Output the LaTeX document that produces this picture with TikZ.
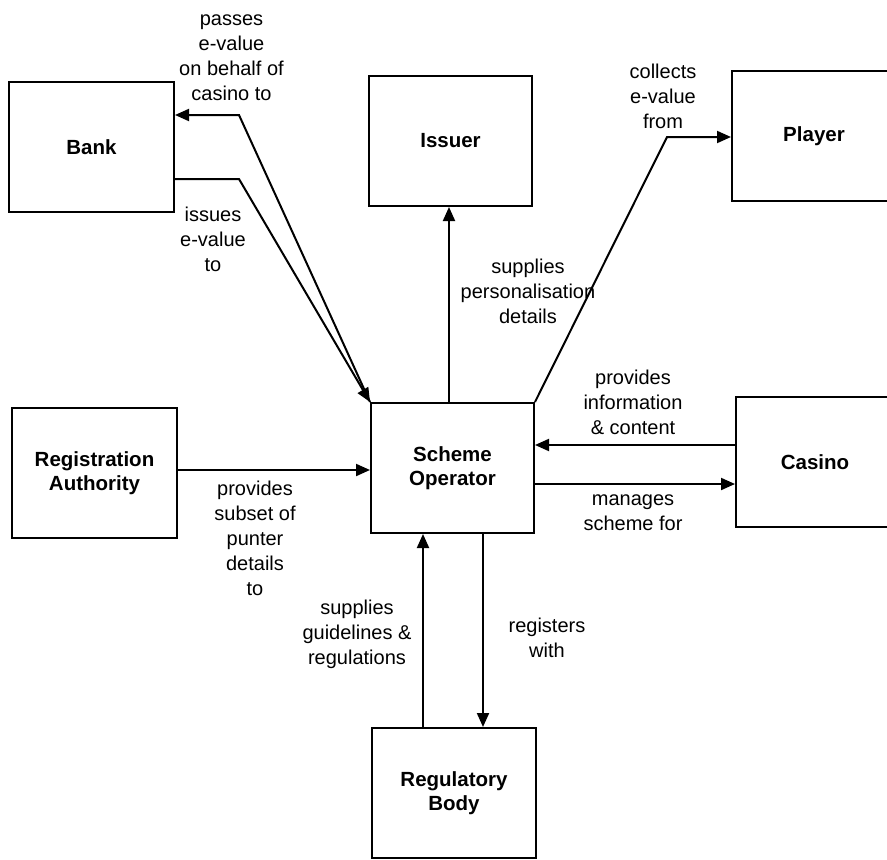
\documentclass[tikz,border=0pt]{standalone}
\usepackage{fontspec}
\setmainfont{Liberation Sans}
\usetikzlibrary{arrows.meta}
\begin{document}
\begin{tikzpicture}[x=1pt,y=-1pt,
  box/.style={draw, line width=2pt, minimum height=130pt, inner sep=0pt, align=center,
    font=\fontsize{20.5}{24}\selectfont\bfseries},
  lbl/.style={align=center, inner sep=0pt, font=\fontsize{20}{25}\selectfont},
  conn/.style={line width=2pt, line join=miter},
  arr/.style={conn, -{Triangle[length=14pt,width=12pt]}}]
\clip (0,0) rectangle (887,860);
\fill[white] (0,0) rectangle (887,860);
% boxes
\node[box, minimum width=165pt] (bank) at (91.5,147) {Bank};
\node[box, minimum width=163pt] (issuer) at (450.5,141) {Issuer};
\node[box, minimum width=164pt] (player) at (814,136) {Player};
\node[box, minimum width=165pt] (ra) at (94.5,473) {Registration\\Authority};
\node[box, minimum width=163pt] (scheme) at (452.5,468) {Scheme\\Operator};
\node[box, minimum width=158pt] (casino) at (815,462) {Casino};
\node[box, minimum width=164pt] (reg) at (454,793) {Regulatory\\Body};
% helper coordinates
\coordinate (k1) at (239,115);
\coordinate (k2) at (239,179);
\coordinate (k3) at (449,300);
\coordinate (k4) at (667,137);
\coordinate (c1) at (640,445);
\coordinate (c2) at (640,484);
\coordinate (c3) at (270,470);
\coordinate (x1) at (423,640);
\coordinate (x2) at (483,640);
% connectors
\draw[arr] (scheme.north west) -- (k1) -- (bank.east |- k1);
\draw[arr] (bank.east |- k2) -- (k2) -- (scheme.north west);
\draw[arr] (scheme.north -| k3) -- (issuer.south -| k3);
\draw[arr] (scheme.north east) -- (k4) -- (player.west |- k4);
\draw[arr] (casino.west |- c1) -- (scheme.east |- c1);
\draw[arr] (scheme.east |- c2) -- (casino.west |- c2);
\draw[arr] (ra.east |- c3) -- (scheme.west |- c3);
\draw[arr] (reg.north -| x1) -- (scheme.south -| x1);
\draw[arr] (scheme.south -| x2) -- (reg.north -| x2);
% labels
\node[lbl] (l1) at (231.5,57.5) {passes\\e-value\\on behalf of\\casino to};
\node[lbl] (l2) at (213,239) {issues\\e-value\\to};
\node[lbl] (l3) at (528,291) {supplies\\personalisation\\details};
\node[lbl] (l4) at (663,96) {collects\\e-value\\from};
\node[lbl] (l5) at (633,402) {provides\\information\\\& content};
\node[lbl] (l6) at (633,512.5) {manages\\scheme for};
\node[lbl] (l7) at (255,538) {provides\\subset of\\punter\\details\\to};
\node[lbl] (l8) at (357,634) {supplies\\guidelines \&\\regulations};
\node[lbl] (l9) at (547,637.5) {registers\\with};
\end{tikzpicture}
\end{document}
